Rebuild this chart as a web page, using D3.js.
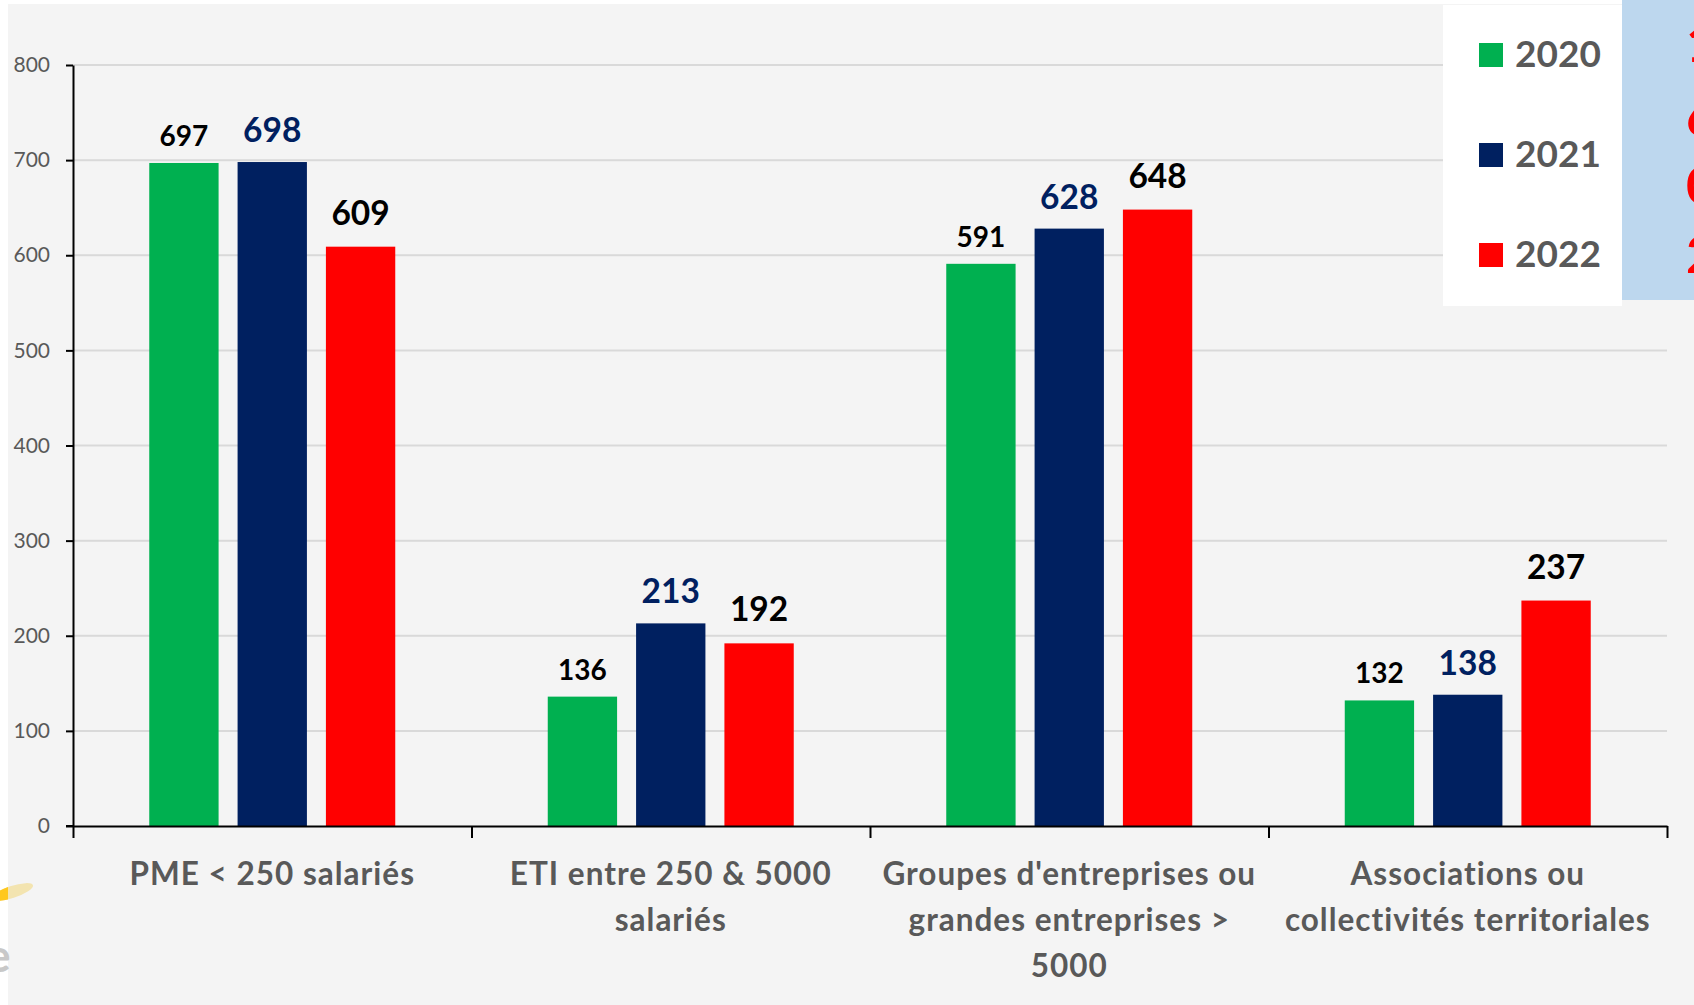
<!DOCTYPE html>
<html><head><meta charset="utf-8">
<script src="https://cdn.jsdelivr.net/npm/d3@7/dist/d3.min.js"></script>
<style>html,body{margin:0;padding:0;background:#fff;overflow:hidden}svg{display:block}</style>
</head><body>
<script>
const categories = ["PME < 250 salariés", "ETI entre 250 & 5000 salariés", "Groupes d'entreprises ou grandes entreprises > 5000", "Associations ou collectivités territoriales"];
const categoryLines = [["PME < 250 salariés"], ["ETI entre 250 & 5000", "salariés"], ["Groupes d'entreprises ou", "grandes entreprises >", "5000"], ["Associations ou", "collectivités territoriales"]];
const years = ["2020", "2021", "2022"];
const values2020 = [697, 136, 591, 132];
const values2021 = [698, 213, 628, 138];
const values2022 = [609, 192, 648, 237];
const yTicks = [0, 100, 200, 300, 400, 500, 600, 700, 800];
const sideDigits = ["1", "6", "0", "2"];

(function () {
const series = [values2020, values2021, values2022];
const colors = ["#00B050", "#002060", "#FF0000"];
const labelColors = ["#000000", "#002060", "#000000"];
const labelSizes = [28, 33.5, 33.5];
const labelGaps = [17, 20, 22];

const W = 1694, H = 1005;
const FONT = "Lato, 'Open Sans', sans-serif";
const svg = d3.select("body").append("svg").attr("width", W).attr("height", H);

svg.append("rect").attr("x", 0).attr("y", 0).attr("width", W).attr("height", H).attr("fill", "#ffffff");
svg.append("rect").attr("x", 8).attr("y", 4).attr("width", W - 8).attr("height", H - 4).attr("fill", "#f4f4f4");

const pLeft = 73, pRight = 1667, pTop = 65, pBottom = 826;
const y = d3.scaleLinear().domain([0, 800]).range([pBottom, pTop]);
const x0 = d3.scaleBand().domain(categories).range([pLeft, pRight]).padding(0);
const x1 = d3.scaleBand().domain(years).range([-123, 123]).paddingInner(0.215).paddingOuter(0);

svg.append("g").selectAll("line").data(yTicks.filter(d => d > 0)).join("line")
  .attr("x1", pLeft).attr("x2", pRight)
  .attr("y1", d => y(d)).attr("y2", d => y(d))
  .attr("stroke", "#d9d9d9").attr("stroke-width", 2);

years.forEach((yr, si) => {
  const g = svg.append("g");
  g.selectAll("rect").data(series[si]).join("rect")
    .attr("x", (d, i) => x0(categories[i]) + x0.bandwidth() / 2 + x1(yr))
    .attr("y", d => y(d))
    .attr("width", x1.bandwidth())
    .attr("height", d => y(0) - y(d))
    .attr("fill", colors[si]);
  g.selectAll("text").data(series[si]).join("text")
    .attr("x", (d, i) => x0(categories[i]) + x0.bandwidth() / 2 + x1(yr) + x1.bandwidth() / 2)
    .attr("y", d => y(d) - labelGaps[si])
    .attr("text-anchor", "middle")
    .attr("font-family", FONT).attr("font-weight", 700)
    .attr("font-size", labelSizes[si])
    .attr("fill", labelColors[si])
    .text(d => d);
});

const yAxis = svg.append("g").attr("transform", `translate(${pLeft},0)`)
  .call(d3.axisLeft(y).tickValues(yTicks).tickSize(7).tickSizeOuter(0).tickPadding(16));
yAxis.select(".domain").attr("stroke", "#000").attr("stroke-width", 2);
yAxis.selectAll(".tick line").attr("stroke", "#000").attr("stroke-width", 2);
yAxis.selectAll(".tick text").attr("font-family", FONT).attr("font-size", 21).attr("fill", "#595959");

const xb = d3.scaleLinear().domain([0, categories.length]).range([pLeft, pRight]);
const xAxis = svg.append("g").attr("transform", `translate(0,${pBottom})`)
  .call(d3.axisBottom(xb).tickValues(d3.range(categories.length + 1)).tickSize(12).tickSizeOuter(0).tickFormat(""));
xAxis.select(".domain").attr("stroke", "#000").attr("stroke-width", 2);
xAxis.selectAll(".tick line").attr("stroke", "#000").attr("stroke-width", 2);
svg.append("line").attr("x1", pLeft - 7).attr("x2", pLeft).attr("y1", pBottom).attr("y2", pBottom).attr("stroke", "#000").attr("stroke-width", 2);

const cl = svg.append("g");
categories.forEach((c, i) => {
  const cx = x0(c) + x0.bandwidth() / 2;
  const t = cl.append("text")
    .attr("x", cx)
    .attr("y", 885)
    .attr("text-anchor", "middle")
    .attr("font-family", FONT).attr("font-weight", 700)
    .attr("font-size", 31.5).attr("letter-spacing", 1)
    .attr("fill", "#595959");
  categoryLines[i].forEach((ln, k) => {
    t.append("tspan").attr("x", cx).attr("dy", k === 0 ? 0 : 46).text(ln);
  });
});

const leg = svg.append("g");
leg.append("rect").attr("x", 1443).attr("y", 5).attr("width", 179).attr("height", 301).attr("fill", "#ffffff");
years.forEach((yr, i) => {
  leg.append("rect").attr("x", 1479).attr("y", 43 + i * 100).attr("width", 24).attr("height", 24).attr("fill", colors[i]);
  leg.append("text").attr("x", 1515).attr("y", 67 + i * 100)
    .attr("font-family", FONT).attr("font-weight", 700).attr("font-size", 37).attr("fill", "#595959").text(yr);
});

svg.append("rect").attr("x", 1622).attr("y", 0).attr("width", W - 1622).attr("height", 300).attr("fill", "#BDD7EE");
const sd = svg.append("g");
const sideY = [62, 136, 204, 273];
sideDigits.forEach((d, i) => {
  sd.append("text").attr("x", 1686).attr("y", sideY[i])
    .attr("font-family", FONT).attr("font-weight", 700).attr("font-size", 52).attr("fill", "#FF0000").text(d);
});

const defs = svg.append("defs");
defs.append("clipPath").attr("id", "lc").append("rect").attr("x", 0).attr("y", 850).attr("width", 8).attr("height", 80);
const sw = svg.append("g").attr("transform", "translate(12,892) rotate(-18)");
sw.append("ellipse").attr("cx", 0).attr("cy", 0).attr("rx", 22).attr("ry", 6).attr("fill", "#F3E4B0");
svg.append("g").attr("clip-path", "url(#lc)").append("g").attr("transform", "translate(12,892) rotate(-18)")
  .append("ellipse").attr("cx", 0).attr("cy", 0).attr("rx", 22).attr("ry", 6).attr("fill", "#FFC81E");
svg.append("text").attr("x", -14).attr("y", 972).attr("font-family", FONT).attr("font-weight", 700)
  .attr("font-size", 46).attr("fill", "#c8c8c8").text("e");
})();
</script>
</body></html>
